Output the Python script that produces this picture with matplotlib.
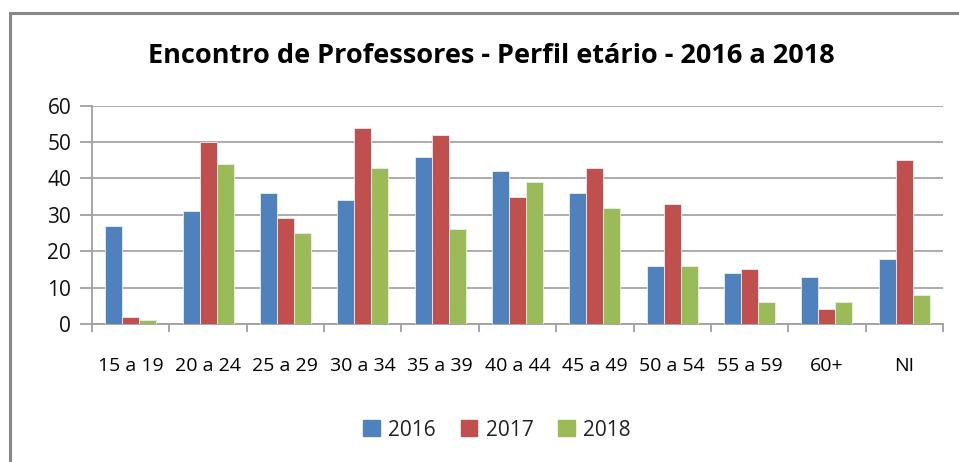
import matplotlib
matplotlib.use("Agg")
import matplotlib.pyplot as plt
from matplotlib.patches import Rectangle
import numpy as np

categories = ["15 a 19", "20 a 24", "25 a 29", "30 a 34", "35 a 39", "40 a 44",
              "45 a 49", "50 a 54", "55 a 59", "60+", "NI"]
series_names = ["2016", "2017", "2018"]
v2016 = [27, 31, 36, 34, 46, 42, 36, 16, 14, 13, 18]
v2017 = [2, 50, 29, 54, 52, 35, 43, 33, 15, 4, 45]
v2018 = [1, 44, 25, 43, 26, 39, 32, 16, 6, 6, 8]
colors = ["#4F81BD", "#C0504D", "#9BBB59"]
yticks = [0, 10, 20, 30, 40, 50, 60]

plt.rcParams['font.family'] = ['Open Sans', 'DejaVu Sans']

fig = plt.figure(figsize=(9.59, 4.62), dpi=100)
fig.patch.set_facecolor("white")
# outer chart border
fig.add_artist(Rectangle((10/959, -0.1), 1.2, 1 - 13/462 + 0.1, transform=fig.transFigure,
                         fill=False, edgecolor="#878787", linewidth=2.2))

ax = fig.add_axes([92/959, 1 - 324/462, (943 - 92)/959, (324 - 105.7)/462])
x = np.arange(len(categories))
w = 0.22
for i, (vals, c, name) in enumerate(zip([v2016, v2017, v2018], colors, series_names)):
    ax.bar(x + (i - 1) * w, vals, width=w, color=c, edgecolor="#e8eef5", linewidth=0.6,
           label=name, zorder=3)

ax.set_xlim(-0.5, len(categories) - 0.5)
ax.set_ylim(0, 60)
ax.set_yticks(yticks)
ax.set_yticklabels([str(t) for t in yticks], fontsize=15, color="#111111")
ax.set_xticks(x)
ax.set_xticklabels(categories, fontsize=14, color="#000000")
ax.tick_params(axis="x", length=0, pad=24)
ax.set_xticks(np.arange(len(categories) + 1) - 0.5, minor=True)
ax.tick_params(axis="x", which="minor", length=6, color="#a0a0a0", width=1.3)
ax.tick_params(axis="y", length=9, color="#a0a0a0", width=1.3, pad=6)
ax.grid(axis="y", color="#a6a6a6", linewidth=1.3, zorder=0)
for s in ["top", "right"]:
    ax.spines[s].set_visible(False)
ax.spines["left"].set_color("#a0a0a0")
ax.spines["bottom"].set_color("#a0a0a0")
ax.spines["left"].set_linewidth(1.3)
ax.spines["bottom"].set_linewidth(1.3)

fig.text(491/959, 1 - 56/462, "Encontro de Professores - Perfil etário - 2016 a 2018",
         ha="center", va="center", fontsize=19.5, fontweight="bold", color="#000000")

handles = [Rectangle((0, 0), 1, 1, color=c) for c in colors]
fig.legend(handles, series_names, loc="center", bbox_to_anchor=(497/959, 1 - 430/462),
           ncol=3, frameon=False, fontsize=15, handlelength=0.8, handleheight=0.8,
           handletextpad=0.4, columnspacing=1.2, labelcolor="#222222")

fig.savefig("out.png", dpi=100, facecolor="white")
